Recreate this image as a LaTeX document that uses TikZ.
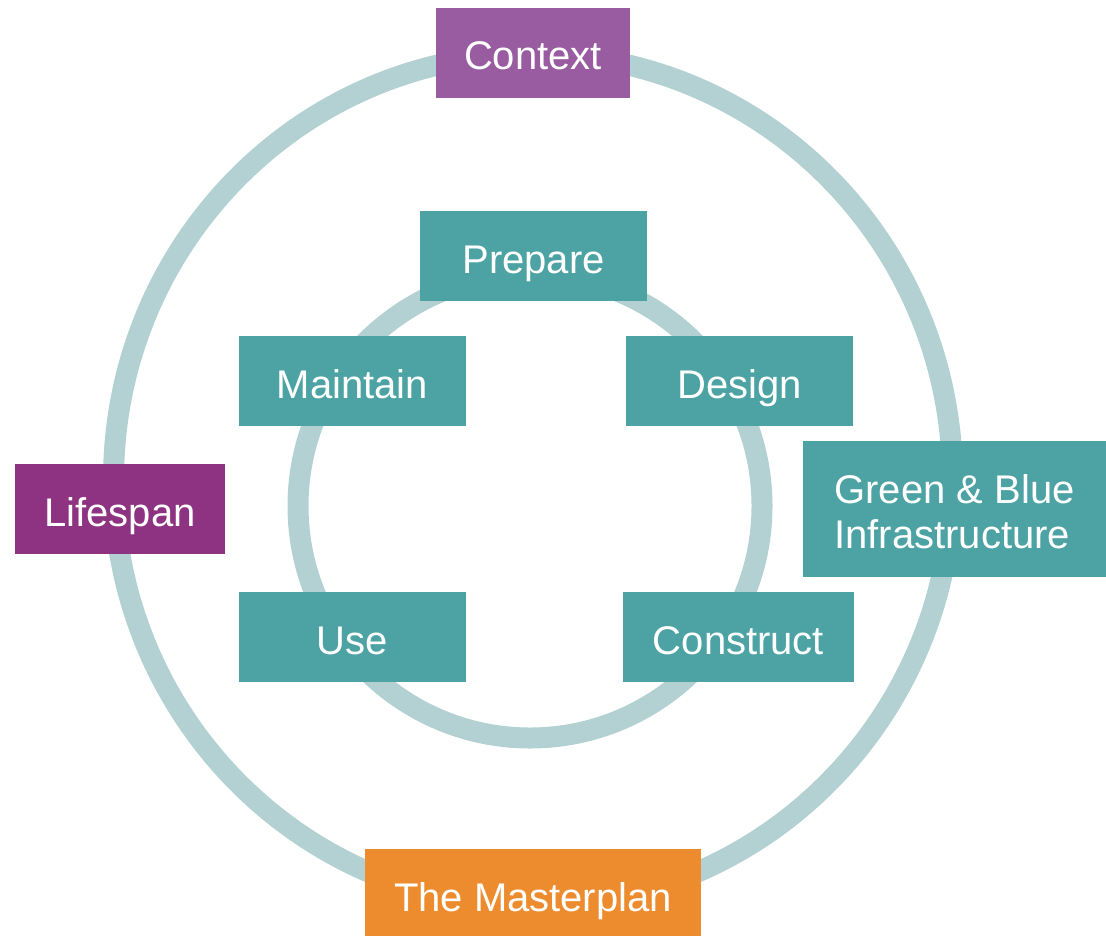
\documentclass[tikz,border=0pt]{standalone}
\usepackage{fontspec}
\setmainfont{Liberation Sans}
\usetikzlibrary{positioning}

\definecolor{ringgrey}{HTML}{B3D1D2}
\definecolor{stageteal}{HTML}{4DA3A4}
\definecolor{contextpurple}{HTML}{995CA0}
\definecolor{lifeplum}{HTML}{8E3381}
\definecolor{planorange}{HTML}{EC8C2E}

\begin{document}
\begin{tikzpicture}[x=0.5pt, y=-0.5pt,
    ring/.style={draw=ringgrey, line width=10.5pt},
    tag/.style={rectangle, inner sep=0pt, text=white, minimum height=45pt,
                text height=17pt, text depth=0pt,
                font=\fontsize{20}{22.5}\selectfont},
    stage/.style={tag, fill=stageteal, minimum width=113.5pt}]
        \useasboundingbox (0,0) rectangle (1106,936);
        %
        \draw [ring] (533,480) ellipse [x radius=209.75pt, y radius=213pt];
        \draw [ring] (530,506) circle [radius=116pt];
        %
        \node [stage] (prepare) at (533.5,256) {Prepare};
        \node [stage] (maintain) at (352.5,381) {Maintain};
        \node [stage] (design) at (739.5,381) {Design};
        \node [stage] (use) at (352.5,637) {Use};
        \node [stage, minimum width=115.5pt] (construct) at (738.5,637) {Construct};
        %
        \node [tag, fill=contextpurple, minimum width=97pt] (context) at (533,53) {Context};
        \node [tag, fill=lifeplum, minimum width=105pt] (lifespan) at (120,509) {Lifespan};
        \node [tag, fill=stageteal, minimum width=151.5pt, minimum height=68pt,
               text height=39pt, align=left] (greenblue) at (954.5,509) {Green \& Blue\\Infrastructure};
        \node [tag, fill=planorange, minimum width=168pt, minimum height=43.5pt, text height=19pt] (masterplan) at (533,892.5) {The Masterplan};
      \end{tikzpicture}
\end{document}
